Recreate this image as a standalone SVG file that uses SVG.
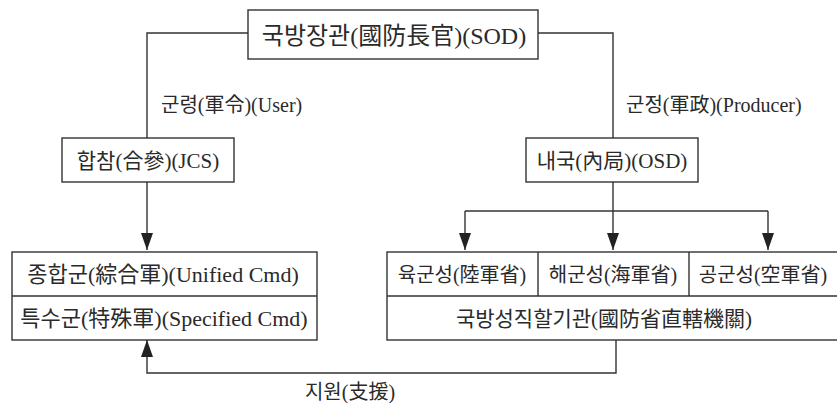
<svg xmlns="http://www.w3.org/2000/svg" width="837" height="403" viewBox="0 0 837 403">
<defs>
<style>
.box{fill:#fff;stroke:#333;stroke-width:1.4}
.ln{fill:none;stroke:#333;stroke-width:1.4}
.t{font-family:"Liberation Serif","Noto Sans CJK KR",serif;font-size:20px;fill:#2a2a2a;text-anchor:middle}
.lbl{font-family:"Liberation Serif","Noto Sans CJK KR",serif;font-size:20px;fill:#2a2a2a}
</style>
<marker id="arrdown" markerUnits="userSpaceOnUse" markerWidth="18" markerHeight="12" refX="17" refY="6" orient="auto" viewBox="0 0 18 12">
<path d="M0,0 L17,6 L0,12 Z" fill="#222"/>
</marker>
</defs>
<rect width="837" height="403" fill="#fff"/>
<g id="connectors">
<polyline class="ln" points="248,33 147,33 147,138"/>
<polyline class="ln" points="538,33 613,33 613,138"/>
<line class="ln" x1="147" y1="182" x2="147" y2="250" marker-end="url(#arrdown)"/>
<line class="ln" x1="613" y1="182" x2="613" y2="211"/>
<line class="ln" x1="465" y1="211" x2="768" y2="211"/>
<line class="ln" x1="465" y1="211" x2="465" y2="250" marker-end="url(#arrdown)"/>
<line class="ln" x1="613" y1="211" x2="613" y2="250" marker-end="url(#arrdown)"/>
<line class="ln" x1="768" y1="211" x2="768" y2="250" marker-end="url(#arrdown)"/>
<polyline class="ln" points="616,340 616,373 147,373 147,340" marker-end="url(#arrdown)"/>
<text class="lbl" x="161" y="112">군령(軍令)(User)</text>
<text class="lbl" x="626" y="112">군정(軍政)(Producer)</text>
<text class="t" x="350" y="399">지원(支援)</text>
</g>
<g id="sod">
<rect class="box" x="248" y="10" width="290" height="49"/>
<text class="t" x="394" y="44" style="font-size:24px">국방장관(國防長官)(SOD)</text>
</g>
<g id="jcs">
<rect class="box" x="62" y="138" width="172" height="44"/>
<text class="t" x="148" y="168" style="font-size:21px">합참(合參)(JCS)</text>
</g>
<g id="osd">
<rect class="box" x="526" y="138" width="172" height="44"/>
<text class="t" x="612" y="168" style="font-size:21px">내국(內局)(OSD)</text>
</g>
<g id="commands">
<rect class="box" x="12" y="252" width="305" height="88"/>
<line class="ln" x1="12" y1="296" x2="317" y2="296"/>
<text class="t" x="163" y="282" style="font-size:22px">종합군(綜合軍)(Unified Cmd)</text>
<text class="t" x="164" y="326" style="font-size:22px">특수군(特殊軍)(Specified Cmd)</text>
</g>
<g id="departments">
<rect class="box" x="387" y="252" width="455" height="88"/>
<line class="ln" x1="387" y1="296" x2="842" y2="296"/>
<line class="ln" x1="538" y1="252" x2="538" y2="296"/>
<line class="ln" x1="689" y1="252" x2="689" y2="296"/>
<text class="t" x="462" y="282">육군성(陸軍省)</text>
<text class="t" x="613" y="282">해군성(海軍省)</text>
<text class="t" x="763" y="282">공군성(空軍省)</text>
<text class="t" x="604" y="326" style="font-size:21px">국방성직할기관(國防省直轄機關)</text>
</g>
</svg>
